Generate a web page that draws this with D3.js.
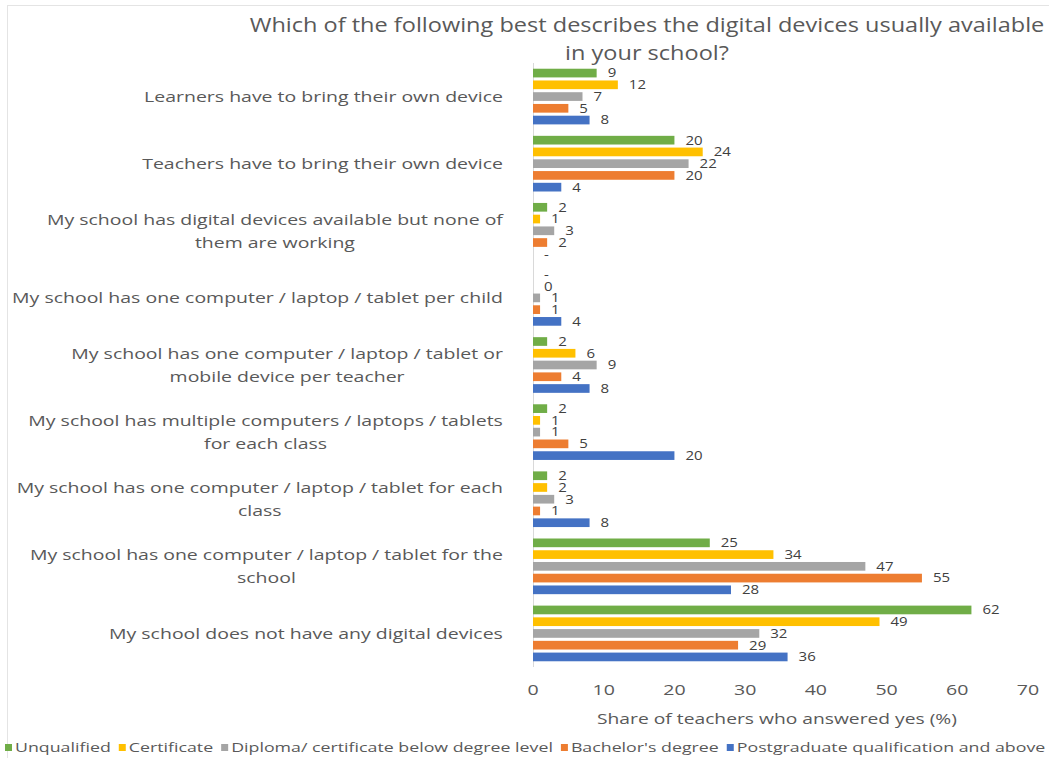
<!DOCTYPE html>
<html>
<head>
<meta charset="utf-8">
<script src="https://cdn.jsdelivr.net/npm/d3@7"></script>
<style>
  html, body { margin: 0; padding: 0; background: #ffffff; }
  svg { display: block; font-family: "Open Sans", "Noto Sans", sans-serif; }
</style>
</head>
<body>
<svg id="chart" width="1049" height="758"></svg>
<script>
// Survey answers, one entry per category (top to bottom)
const categories = [
  "Learners have to bring their own device",
  "Teachers have to bring their own device",
  "My school has digital devices available but none of\nthem are working",
  "My school has one computer / laptop / tablet per child",
  "My school has one computer / laptop / tablet or\nmobile device per teacher",
  "My school has multiple computers / laptops / tablets\nfor each class",
  "My school has one computer / laptop / tablet for each\nclass",
  "My school has one computer / laptop / tablet for the\nschool",
  "My school does not have any digital devices"
];

const seriesNames = [
  "Unqualified",
  "Certificate",
  "Diploma/ certificate below degree level",
  "Bachelor's degree",
  "Postgraduate qualification and above"
];

// Share of teachers (%) per qualification level; null = no response ("-")
const unqualified  = [9, 20, 2, null, 2, 2, 2, 25, 62];
const certificate  = [12, 24, 1, 0, 6, 1, 2, 34, 49];
const diploma      = [7, 22, 3, 1, 9, 1, 3, 47, 32];
const bachelors    = [5, 20, 2, 1, 4, 5, 1, 55, 29];
const postgraduate = [8, 4, null, 4, 8, 20, 8, 28, 36];

const xTicks = [0, 10, 20, 30, 40, 50, 60, 70];

const title = ["Which of the following best describes the digital devices usually available",
               "in your school?"];
const xTitle = "Share of teachers who answered yes (%)";

const seriesValues = [unqualified, certificate, diploma, bachelors, postgraduate];
const colors = ["#70AD47", "#FFC000", "#A5A5A5", "#ED7D31", "#4472C4"];

const svg = d3.select("#chart");
const textColor = "#595959";

// widen a text horizontally about its own anchor x
function widen(sel, sx) {
  sel.each(function() {
    const t = d3.select(this);
    const ax = +t.attr("x");
    t.attr("transform", `translate(${ax},0) scale(${sx},1) translate(${-ax},0)`);
  });
  return sel;
}

// plot area
const plot = { left: 533, right: 1028, top: 63, bottom: 667 };

const x = d3.scaleLinear().domain([0, 70]).range([plot.left, plot.right]);
const y0 = d3.scaleBand()
  .domain(d3.range(categories.length))
  .range([plot.top, plot.bottom])
  .paddingInner(0.125)
  .paddingOuter(0.0625);
const y1 = d3.scaleBand()
  .domain(d3.range(seriesNames.length))
  .range([0, y0.bandwidth()])
  .paddingInner(0.26)
  .paddingOuter(0.13);

// chart frame
svg.append("rect")
  .attr("x", 7.5).attr("y", 5.5)
  .attr("width", 1060).attr("height", 800)
  .attr("fill", "none").attr("stroke", "#e4e4e4");

// title
const titleText = svg.append("g").selectAll("text").data(title).join("text")
  .attr("x", 647)
  .attr("y", (d, i) => 32 + i * 28)
  .attr("text-anchor", "middle")
  .attr("fill", textColor)
  .attr("font-size", 20)
  .text(d => d);
widen(titleText, 795 / titleText.nodes()[0].getComputedTextLength());

// vertical category axis line
svg.append("line")
  .attr("x1", plot.left + 0.5).attr("x2", plot.left + 0.5)
  .attr("y1", plot.top).attr("y2", plot.bottom)
  .attr("stroke", "#d9d9d9");

// bars and value labels
const groups = svg.append("g").selectAll("g").data(categories).join("g")
  .attr("transform", (d, i) => `translate(0,${y0(i)})`);

groups.each(function(cat, ci) {
  const g = d3.select(this);
  const vals = seriesValues.map((s, si) => ({ si, v: s[ci] }));
  g.selectAll("rect").data(vals).join("rect")
    .attr("x", x(0))
    .attr("y", d => y1(d.si))
    .attr("width", d => d.v == null ? 0 : x(d.v) - x(0))
    .attr("height", y1.bandwidth())
    .attr("fill", d => colors[d.si]);
  const lbl = g.selectAll("text").data(vals).join("text")
    .attr("x", d => x(d.v == null ? 0 : d.v) + 11)
    .attr("y", d => y1(d.si) + y1.bandwidth() / 2)
    .attr("dy", "0.35em")
    .attr("fill", "#404040")
    .attr("font-size", 12.5)
    .text(d => d.v == null ? "-" : d.v);
  widen(lbl, 1.2);
});

// category labels (right aligned block, lines centred within block)
const labelRight = 503;
const catG = svg.append("g");
const catTexts = [];
categories.forEach((cat, i) => {
  const lines = cat.split("\n");
  const cy = y0(i) + y0.bandwidth() / 2;
  const texts = lines.map((ln, li) => catG.append("text")
    .attr("y", cy + (li - (lines.length - 1) / 2) * 23)
    .attr("dy", "0.35em")
    .attr("fill", textColor)
    .attr("font-size", 15)
    .attr("text-anchor", "middle")
    .text(ln));
  catTexts.push(texts);
});
// common horizontal widening so the longest line spans the label column
const widest = d3.max(catTexts.flat(), t => t.node().getComputedTextLength());
const catScale = 491 / widest;
catTexts.forEach(texts => {
  const w = d3.max(texts, t => t.node().getComputedTextLength()) * catScale;
  texts.forEach(t => { t.attr("x", labelRight - w / 2); widen(t, catScale); });
});

// x axis tick labels
const tickText = svg.append("g").selectAll("text").data(xTicks).join("text")
  .attr("x", d => x(d))
  .attr("y", 690)
  .attr("dy", "0.35em")
  .attr("text-anchor", "middle")
  .attr("fill", textColor)
  .attr("font-size", 14.5)
  .text(d => d);
widen(tickText, 1.35);

// x axis title
const xt = svg.append("text")
  .attr("x", 777)
  .attr("y", 719)
  .attr("dy", "0.35em")
  .attr("text-anchor", "middle")
  .attr("fill", textColor)
  .attr("font-size", 15)
  .text(xTitle);
widen(xt, 360 / xt.node().getComputedTextLength());

// legend
const legend = svg.append("g");
const legTexts = seriesNames.map(name => legend.append("text")
  .attr("y", 748)
  .attr("dy", "0.35em")
  .attr("fill", textColor)
  .attr("font-size", 12)
  .text(name));
const natural = d3.sum(legTexts, t => t.node().getComputedTextLength());
const legScale = (1046 - 5 - seriesNames.length * 10 - (seriesNames.length - 1) * 8) / natural;
let lx = 5;
legTexts.forEach((t, i) => {
  legend.append("rect")
    .attr("x", lx).attr("y", 744)
    .attr("width", 7).attr("height", 7)
    .attr("fill", colors[i]);
  t.attr("x", lx + 10);
  widen(t, legScale);
  lx += 10 + t.node().getComputedTextLength() * legScale + 8;
});
</script>
</body>
</html>
